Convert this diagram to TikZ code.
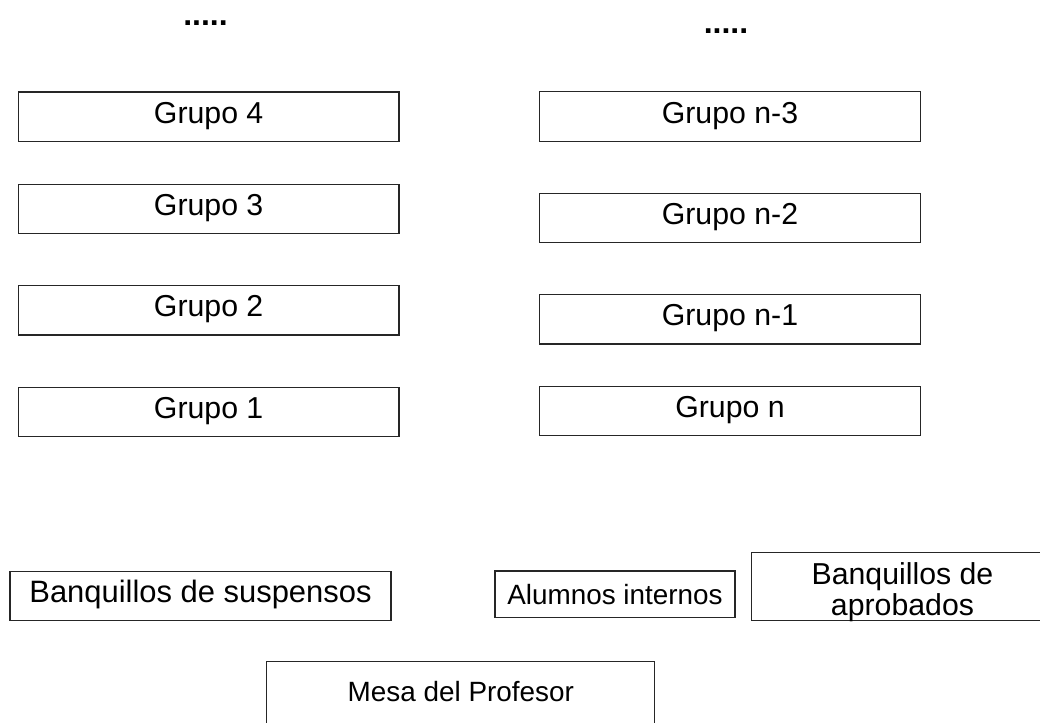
\documentclass[tikz,border=0pt]{standalone}
\usepackage{fontspec}
\setmainfont{Liberation Sans}
\begin{document}
\begin{tikzpicture}[x=0.75pt,y=-0.75pt,
  box/.style={draw=black!85, line width=0.8pt, rectangle, inner sep=0pt, anchor=center},
  grupo/.style={box, minimum width=285.5pt, minimum height=37pt,
    font=\fontsize{22.7pt}{27pt}\selectfont, text height=10pt, text depth=0pt},
  dots/.style={inner sep=0pt, anchor=base, font=\fontsize{24pt}{28pt}\selectfont\bfseries}
]
\useasboundingbox (0,0) rectangle (1040,722);

% dots
\node[dots] (dl) at (205.5,25) {.....};
\node[dots] (dr) at (726,33.7) {.....};

% left column
\node[grupo] (g4) at (208.65,116.65) {Grupo 4};
\node[grupo] (g3) at (208.65,209) {Grupo 3};
\node[grupo] (g2) at (208.65,310.3) {Grupo 2};
\node[grupo] (g1) at (208.65,411.7) {Grupo 1};

% right column
\node[grupo] (gn3) at (730,116.5) {Grupo n-3};
\node[grupo] (gn2) at (730,218) {Grupo n-2};
\node[grupo] (gn1) at (730,319.3) {Grupo n-1};
\node[grupo] (gn) at (730,411.2) {Grupo n};

% bottom row
\node[box, minimum width=285.75pt, minimum height=36.75pt,
  font=\fontsize{23.2pt}{27pt}\selectfont, text height=9.75pt, text depth=0pt]
  (susp) at (200.5,596.2) {Banquillos de suspensos};
\node[box, minimum width=180pt, minimum height=35pt,
  font=\fontsize{20.9pt}{25pt}\selectfont, text height=16pt, text depth=0pt]
  (alum) at (615,594.3) {Alumnos internos};
\node[box, minimum width=227pt, minimum height=50.8pt,
  font=\fontsize{22.7pt}{23.55pt}\selectfont, text height=44.25pt, text depth=0pt]
  (aprob) at (902.5,586.2) {\begin{tabular}[b]{@{}c@{}}Banquillos de\\aprobados\end{tabular}};
\node[box, minimum width=291.2pt, minimum height=60.2pt,
  font=\fontsize{20.9pt}{25pt}\selectfont, text height=0pt, text depth=1.35pt]
  (mesa) at (460.8,701.9) {Mesa del Profesor};
\end{tikzpicture}
\end{document}
